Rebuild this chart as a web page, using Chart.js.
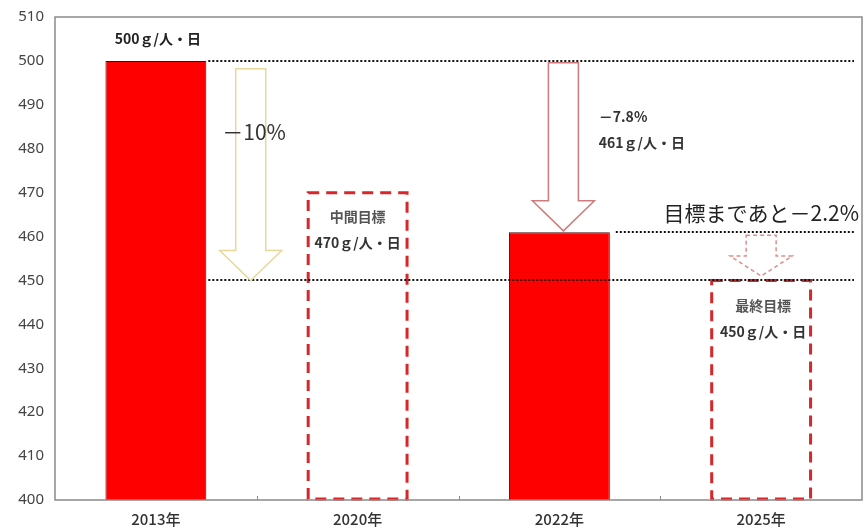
<!DOCTYPE html>
<html lang="ja">
<head>
<meta charset="utf-8">
<style>
  html, body { margin: 0; padding: 0; background: #fff; }
  #wrap { width: 867px; height: 529px; position: relative; }
</style>
<script src="https://cdn.jsdelivr.net/npm/chart.js@4/dist/chart.umd.min.js"></script>
</head>
<body>
<div id="wrap"><canvas id="foodLoss"></canvas></div>
<script>
// 1人1日あたりの量（ｇ/人・日）
const years = ['2013年', '2020年', '2022年', '2025年'];
const amounts = [500, 470, 461, 450];
const isTarget = [false, true, false, true];   // 目標値は破線の枠だけで描く

const yMin = 400;
const yMax = 510;
const yStep = 10;

// バーの中・上に書く注記（棒ごと）
const barNotes = [
  ['500ｇ/人・日'],
  ['中間目標', '470ｇ/人・日'],
  ['－7.8%', '461ｇ/人・日'],
  ['最終目標', '450ｇ/人・日']
];
const dropLabel = '－10%';
const remainLabel = '目標まであと－2.2%';

const FONT_JP = '"Noto Sans CJK JP", "Noto Sans", sans-serif';

// 点線・矢印・注記を描くプラグイン
const annotate = {
  id: 'annotate',
  afterDatasetsDraw(chart) {
    const { ctx, chartArea: area, scales: { x, y } } = chart;
    const bars = chart.getDatasetMeta(0).data;
    const right = (i) => bars[i].x + bars[i].width / 2;
    const left = (i) => bars[i].x - bars[i].width / 2;

    ctx.save();

    // 目標の破線枠
    ctx.strokeStyle = '#d8262b';
    ctx.lineWidth = 3;
    ctx.setLineDash([11, 7]);
    bars.forEach((b, i) => {
      if (!isTarget[i]) return;
      const bottom = Math.min(b.base, area.bottom) - 1;
      ctx.strokeRect(left(i) + 1, b.y, b.width - 2, bottom - b.y);
    });

    // 水平の点線
    ctx.strokeStyle = '#111';
    ctx.lineWidth = 2;
    ctx.setLineDash([2, 2]);
    const dotted = [[amounts[0], right(0)], [amounts[3], right(0)], [amounts[2], right(2) + 4]];
    dotted.forEach(([v, x0]) => {
      const py = Math.round(y.getPixelForValue(v));
      ctx.beginPath();
      ctx.moveTo(x0 + 2, py);
      ctx.lineTo(area.right - 8, py);
      ctx.stroke();
    });
    ctx.setLineDash([]);

    // 下向きの白抜き矢印
    const arrow = (cx, vTop, vTip, headLen, color, dashed) => {
      const top = y.getPixelForValue(vTop);
      const tip = y.getPixelForValue(vTip);
      const neck = tip - headLen;
      const sw = 15, hw = 31;
      ctx.beginPath();
      ctx.moveTo(cx - sw, top);
      ctx.lineTo(cx + sw, top);
      ctx.lineTo(cx + sw, neck);
      ctx.lineTo(cx + hw, neck);
      ctx.lineTo(cx, tip);
      ctx.lineTo(cx - hw, neck);
      ctx.lineTo(cx - sw, neck);
      ctx.closePath();
      ctx.fillStyle = '#fff';
      ctx.fill();
      ctx.strokeStyle = color;
      ctx.lineWidth = 1.5;
      ctx.setLineDash(dashed ? [4, 3] : []);
      ctx.stroke();
      ctx.setLineDash([]);
    };
    arrow(x.getPixelForValue(0.47), 498.2, amounts[3], 30, '#e6d79a', false);
    arrow(x.getPixelForValue(2.02), 499.6, amounts[2] + 0.3, 30, '#cf7b7b', false);
    arrow(x.getPixelForValue(3.0), 460.3, 451, 20, '#dc8f8f', true);

    // 注記の文字
    const text = (str, px, v, size, color, align, weight) => {
      ctx.font = `${weight} ${size}px ${FONT_JP}`;
      ctx.fillStyle = color;
      ctx.textAlign = align;
      ctx.textBaseline = 'middle';
      ctx.fillText(str, px, y.getPixelForValue(v));
    };
    text(barNotes[0][0], bars[0].x + 2, 505.0, 14, '#222', 'center', 'bold');
    text(barNotes[1][0], bars[1].x, 464.5, 14, '#555', 'center', 'bold');
    text(barNotes[1][1], bars[1].x, 458.6, 14, '#333', 'center', 'bold');
    text(barNotes[2][0], right(2) - 11, 487.3, 14, '#333', 'left', 'bold');
    text(barNotes[2][1], right(2) - 11, 481.4, 14, '#333', 'left', 'bold');
    text(barNotes[3][0], bars[3].x + 2, 444.3, 14, '#555', 'center', 'bold');
    text(barNotes[3][1], bars[3].x + 2, 438.4, 14, '#333', 'center', 'bold');
    text(dropLabel, right(0) + 16, 483.7, 21, '#333', 'left', 'normal');
    text(remainLabel, area.right - 3, 465.4, 21, '#222', 'right', 'normal');

    // 外枠と下辺の目盛り
    ctx.strokeStyle = '#8a8a8a';
    ctx.lineWidth = 1.5;
    ctx.strokeRect(area.left, area.top, area.right - area.left, area.bottom - area.top);
    ctx.lineWidth = 1;
    for (let i = 0; i < years.length - 1; i++) {
      const px = Math.round(x.getPixelForValue(i + 0.5)) + 0.5;
      ctx.beginPath();
      ctx.moveTo(px, area.bottom);
      ctx.lineTo(px, area.bottom - 4);
      ctx.stroke();
    }
    ctx.restore();
  }
};

new Chart(document.getElementById('foodLoss'), {
  type: 'bar',
  data: {
    labels: years,
    datasets: [{
      data: amounts,
      backgroundColor: isTarget.map(t => t ? 'rgba(0,0,0,0)' : '#ff0000'),
      borderColor: isTarget.map(t => t ? 'rgba(0,0,0,0)' : '#4a0a0a'),
      borderWidth: isTarget.map(t => t ? 0 : 1),
      barPercentage: 0.5,
      categoryPercentage: 1.0
    }]
  },
  options: {
    responsive: true,
    maintainAspectRatio: false,
    animation: false,
    layout: { padding: { top: 17, right: 5, left: 0, bottom: 0 } },
    plugins: {
      legend: { display: false },
      tooltip: { enabled: false }
    },
    scales: {
      x: {
        grid: { display: false },
        border: { display: false },
        ticks: { color: '#333', font: { family: FONT_JP, size: 15, weight: '500' }, padding: 2 },
        afterFit: (s) => { s.height = 29; }
      },
      y: {
        min: yMin,
        max: yMax,
        grid: { display: false },
        border: { display: false },
        ticks: {
          stepSize: yStep,
          color: '#444',
          padding: 3,
          font: { family: '"Noto Sans", sans-serif', size: 15 }
        },
        afterFit: (s) => { s.width = 55; }
      }
    }
  },
  plugins: [annotate]
});
</script>
</body>
</html>
